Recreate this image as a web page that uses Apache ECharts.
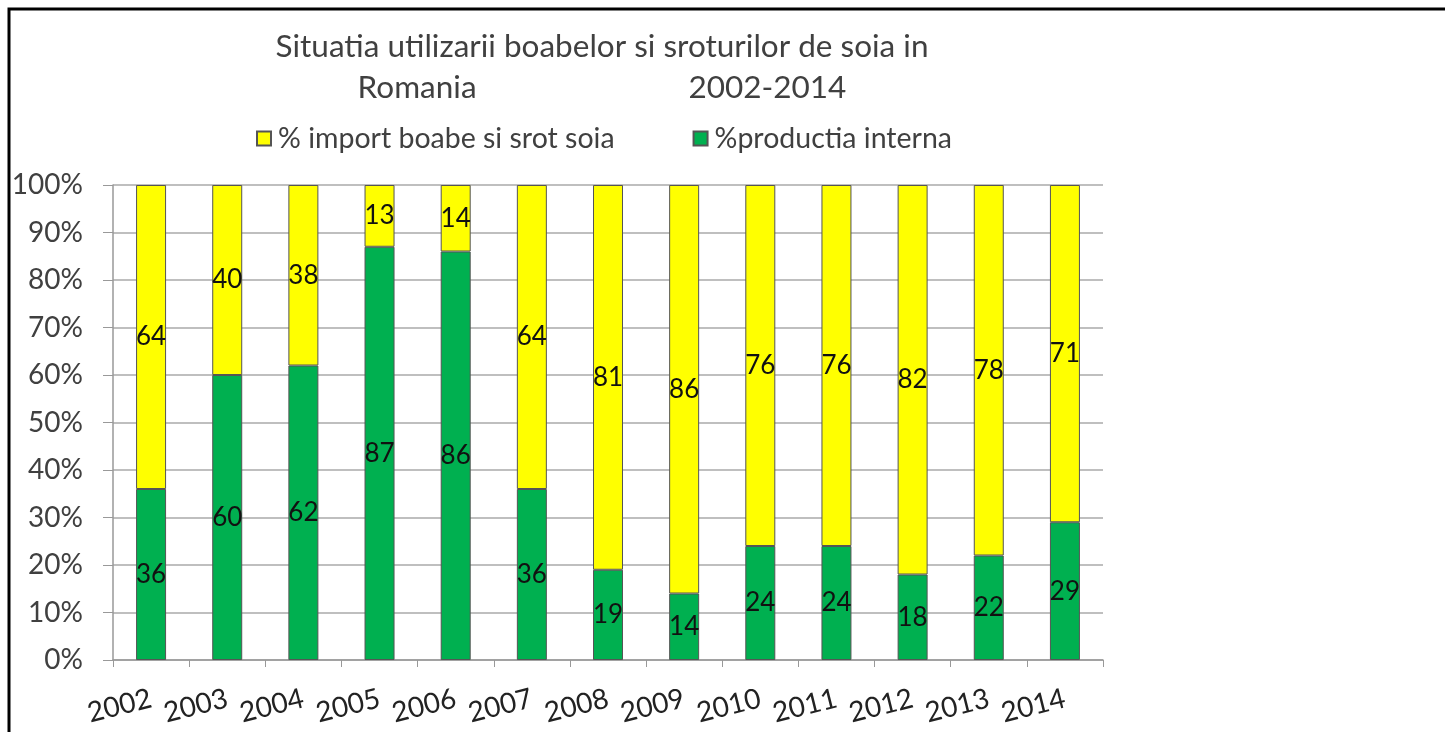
<!DOCTYPE html>
<html>
<head>
<meta charset="utf-8">
<script src="https://cdn.jsdelivr.net/npm/echarts@6/dist/echarts.min.js"></script>
<style>
  html, body { margin: 0; padding: 0; background: #fff; }
  #chart { width: 1445px; height: 732px; }
</style>
</head>
<body>
<div id="chart"></div>
<script>
// ani de raportare
const years = ['2002', '2003', '2004', '2005', '2006', '2007', '2008', '2009', '2010', '2011', '2012', '2013', '2014'];
// % productia interna (verde, jos)
const productiaInterna = [36, 60, 62, 87, 86, 36, 19, 14, 24, 24, 18, 22, 29];
// % import boabe si srot soia (galben, sus)
const importSoia = [64, 40, 38, 13, 14, 64, 81, 86, 76, 76, 82, 78, 71];

const nameImport = '% import boabe si srot soia';
const nameInterna = '%productia interna';

const font = 'Lato, "Open Sans", sans-serif';
const txt = '#404040';

let chart = echarts.init(document.getElementById('chart'));

let option = {
  animation: false,
  textStyle: { fontFamily: font },
  title: {
    text: 'Situatia utilizarii boabelor si sroturilor de soia in\n{a|Romania}{sp|}{a|2002-2014}',
    left: 597,
    top: 21,
    textAlign: 'center',
    textStyle: {
      fontFamily: font,
      fontSize: 31.5,
      fontWeight: 'normal',
      color: txt,
      lineHeight: 41,
      rich: {
        a: { fontFamily: font, fontSize: 31.5, color: txt, lineHeight: 41 },
        sp: { width: 212 },
      },
    },
  },
  legend: {
    data: [nameImport, nameInterna],
    left: 251,
    top: 119,
    itemWidth: 14,
    itemHeight: 14,
    itemGap: 78,
    icon: 'rect',
    textStyle: { fontFamily: font, fontSize: 28.5, color: txt, padding: [0, 0, 0, 2] },
  },
  graphic: [
    {
      type: 'polyline',
      shape: { points: [[9, 732], [9, 9], [1445, 9]] },
      style: { stroke: '#000', lineWidth: 3, fill: null },
    },
  ],
  grid: { left: 113, right: 342, top: 185, bottom: 72 },
  xAxis: {
    type: 'category',
    data: years,
    axisLine: { lineStyle: { color: '#999', width: 1.5 } },
    axisTick: { show: true, interval: 0, length: 7, lineStyle: { color: '#999' } },
    axisLabel: { rotate: 14, fontSize: 28, color: '#222', margin: 38, fontFamily: font, interval: 0 },
  },
  yAxis: {
    type: 'value',
    min: 0,
    max: 100,
    interval: 10,
    axisLine: { show: true, lineStyle: { color: '#999', width: 1.5 } },
    axisTick: { show: true, length: 10, lineStyle: { color: '#999' } },
    axisLabel: { formatter: '{value}%', fontSize: 28, color: txt, margin: 30, fontFamily: font },
    splitLine: { lineStyle: { color: '#aaa', width: 1.5 } },
  },
  series: [
    {
      name: nameInterna,
      type: 'bar',
      stack: 'total',
      barWidth: 30,
      data: productiaInterna,
      itemStyle: { color: '#00B050', borderColor: '#555', borderWidth: 1 },
      label: { show: true, position: 'inside', color: '#111', fontSize: 26, fontFamily: font },
    },
    {
      name: nameImport,
      type: 'bar',
      stack: 'total',
      barWidth: 30,
      data: importSoia,
      itemStyle: { color: '#FFFF00', borderColor: '#555', borderWidth: 1 },
      label: { show: true, position: 'inside', color: '#111', fontSize: 26, fontFamily: font },
    },
  ],
};

chart.setOption(option);
</script>
</body>
</html>
